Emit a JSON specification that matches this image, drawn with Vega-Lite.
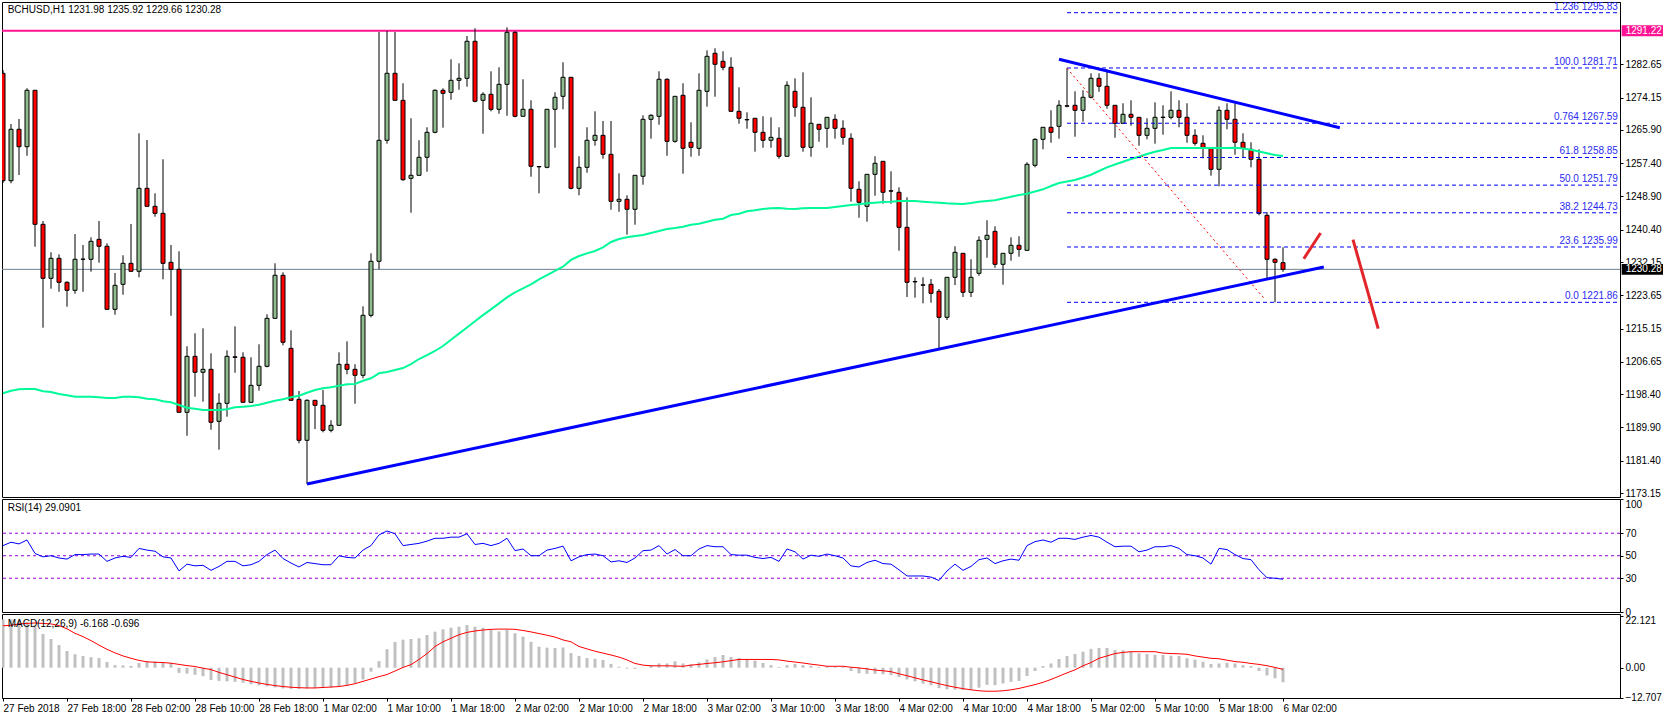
{"$schema":"https://vega.github.io/schema/vega-lite/v6.json","background":"#ffffff","padding":{"left":-2,"top":1,"right":0,"bottom":0},"spacing":2,"bounds":"flush","config":{"view":{"stroke":"#000","strokeWidth":1},"axis":{"grid":false,"title":null,"domainColor":"#000","tickColor":"#000","labelColor":"#000","labelFont":"Liberation Sans","labelFontSize":10,"tickSize":3,"labelPadding":2,"labelOverlap":false,"labelBound":false,"labelFlush":false},"text":{"font":"Liberation Sans","fontSize":10}},"datasets":{"bars":[
{"t":"2018-02-27T10:00","o":1280.35,"h":1281.19,"l":1252.33,"c":1252.92,"ma":1198.62,"rsi":59,"macd":20.5,"sig":17.8},
{"t":"2018-02-27T11:00","o":1252.92,"h":1267.4,"l":1252.25,"c":1266.05,"ma":1199.28,"rsi":62,"macd":20.5,"sig":18},
{"t":"2018-02-27T12:00","o":1266.05,"h":1268.68,"l":1254.37,"c":1261.6,"ma":1199.64,"rsi":60.5,"macd":20,"sig":18.6},
{"t":"2018-02-27T13:00","o":1261.6,"h":1276.52,"l":1259.3,"c":1276.01,"ma":1199.72,"rsi":64,"macd":19.5,"sig":18.8},
{"t":"2018-02-27T14:00","o":1276.01,"h":1276.1,"l":1236.06,"c":1241.78,"ma":1199.72,"rsi":52,"macd":18,"sig":19},
{"t":"2018-02-27T15:00","o":1241.78,"h":1242.63,"l":1215.38,"c":1227.99,"ma":1199.13,"rsi":49,"macd":14.3,"sig":18.8},
{"t":"2018-02-27T16:00","o":1227.99,"h":1234.63,"l":1225.34,"c":1233.1,"ma":1198.95,"rsi":50,"macd":12.2,"sig":18.6},
{"t":"2018-02-27T17:00","o":1233.1,"h":1234.12,"l":1224.57,"c":1226.97,"ma":1198.44,"rsi":48,"macd":9.6,"sig":17.9},
{"t":"2018-02-27T18:00","o":1226.97,"h":1227.23,"l":1220.74,"c":1224.93,"ma":1198.11,"rsi":47,"macd":7.1,"sig":16.5},
{"t":"2018-02-27T19:00","o":1224.93,"h":1239.31,"l":1224.06,"c":1232.85,"ma":1197.75,"rsi":51,"macd":5.7,"sig":14.6},
{"t":"2018-02-27T20:00","o":1232.85,"h":1236.5,"l":1224.57,"c":1232.9,"ma":1197.75,"rsi":51,"macd":5,"sig":13.2},
{"t":"2018-02-27T21:00","o":1232.85,"h":1238.46,"l":1229.68,"c":1237.44,"ma":1197.75,"rsi":51.5,"macd":4.5,"sig":11.5},
{"t":"2018-02-27T22:00","o":1237.95,"h":1242.63,"l":1231.98,"c":1236.17,"ma":1197.6,"rsi":51.5,"macd":4.1,"sig":9.6},
{"t":"2018-02-27T23:00","o":1236.17,"h":1236.93,"l":1220.07,"c":1220.07,"ma":1197.42,"rsi":45,"macd":2.4,"sig":7.8},
{"t":"2018-02-28T00:00","o":1220.07,"h":1229.35,"l":1218.69,"c":1226.2,"ma":1197.42,"rsi":48,"macd":1.1,"sig":6.3},
{"t":"2018-02-28T01:00","o":1226.46,"h":1233.87,"l":1223.8,"c":1231.82,"ma":1197.75,"rsi":49.5,"macd":1,"sig":5},
{"t":"2018-02-28T02:00","o":1231.82,"h":1241.86,"l":1229.78,"c":1229.78,"ma":1197.75,"rsi":48.5,"macd":0.8,"sig":4},
{"t":"2018-02-28T03:00","o":1229.78,"h":1265.03,"l":1228.25,"c":1250.98,"ma":1197.6,"rsi":56.5,"macd":2,"sig":3.1},
{"t":"2018-02-28T04:00","o":1250.98,"h":1263.31,"l":1246.38,"c":1246.38,"ma":1197.24,"rsi":55,"macd":2.7,"sig":2.5},
{"t":"2018-02-28T05:00","o":1246.38,"h":1249.7,"l":1243.73,"c":1244.59,"ma":1197.09,"rsi":54,"macd":2.7,"sig":2.3},
{"t":"2018-02-28T06:00","o":1244.59,"h":1258.39,"l":1227.74,"c":1231.82,"ma":1196.58,"rsi":49,"macd":2.3,"sig":2.2},
{"t":"2018-02-28T07:00","o":1232.08,"h":1236.5,"l":1218.44,"c":1230.29,"ma":1196.32,"rsi":48,"macd":2,"sig":1.9},
{"t":"2018-02-28T08:00","o":1230.29,"h":1234.89,"l":1193.77,"c":1193.77,"ma":1195.63,"rsi":36.5,"macd":-2.2,"sig":1.4},
{"t":"2018-02-28T09:00","o":1193.77,"h":1210.63,"l":1187.79,"c":1208.07,"ma":1194.94,"rsi":42.5,"macd":-2.5,"sig":0.9},
{"t":"2018-02-28T10:00","o":1208.07,"h":1213.95,"l":1197.75,"c":1203.99,"ma":1194.69,"rsi":41,"macd":-3,"sig":0.5},
{"t":"2018-02-28T11:00","o":1203.99,"h":1215.22,"l":1196.48,"c":1204.75,"ma":1194.36,"rsi":41.5,"macd":-3.6,"sig":-0.2},
{"t":"2018-02-28T12:00","o":1204.75,"h":1208.84,"l":1189.32,"c":1191.22,"ma":1194.36,"rsi":37,"macd":-5.2,"sig":-0.8},
{"t":"2018-02-28T13:00","o":1191.47,"h":1198.62,"l":1184.22,"c":1196.07,"ma":1194.36,"rsi":40.5,"macd":-5.6,"sig":-2},
{"t":"2018-02-28T14:00","o":1196.07,"h":1209.6,"l":1192.65,"c":1208.07,"ma":1194.53,"rsi":45,"macd":-5.8,"sig":-3},
{"t":"2018-02-28T15:00","o":1207.95,"h":1215.73,"l":1203.88,"c":1207.8,"ma":1195.05,"rsi":45,"macd":-6,"sig":-4},
{"t":"2018-02-28T16:00","o":1207.82,"h":1209.09,"l":1196.32,"c":1196.32,"ma":1195.2,"rsi":41,"macd":-6.4,"sig":-5},
{"t":"2018-02-28T17:00","o":1196.32,"h":1207.82,"l":1196.32,"c":1200.66,"ma":1195.38,"rsi":42,"macd":-7,"sig":-5.8},
{"t":"2018-02-28T18:00","o":1200.66,"h":1211.14,"l":1199.28,"c":1205.52,"ma":1195.71,"rsi":45,"macd":-7.5,"sig":-6.5},
{"t":"2018-02-28T19:00","o":1205.52,"h":1218.8,"l":1205.26,"c":1217.77,"ma":1196.22,"rsi":51,"macd":-7.9,"sig":-7.1},
{"t":"2018-02-28T20:00","o":1217.77,"h":1231.82,"l":1217.77,"c":1228.76,"ma":1196.73,"rsi":55,"macd":-8.4,"sig":-7.6},
{"t":"2018-02-28T21:00","o":1228.76,"h":1229.52,"l":1210.88,"c":1211.65,"ma":1197.09,"rsi":47.5,"macd":-8.8,"sig":-8},
{"t":"2018-02-28T22:00","o":1210.11,"h":1214.71,"l":1196.83,"c":1196.83,"ma":1197.6,"rsi":43.5,"macd":-9,"sig":-8.3},
{"t":"2018-02-28T23:00","o":1197.09,"h":1199.21,"l":1185.85,"c":1186.62,"ma":1198,"rsi":40,"macd":-9,"sig":-8.5},
{"t":"2018-03-01T00:00","o":1186.62,"h":1197.09,"l":1175.46,"c":1196.83,"ma":1198.77,"rsi":44,"macd":-8.8,"sig":-8.6},
{"t":"2018-03-01T01:00","o":1196.83,"h":1196.83,"l":1189.51,"c":1195.56,"ma":1199.46,"rsi":43,"macd":-8.7,"sig":-8.6},
{"t":"2018-03-01T02:00","o":1195.56,"h":1199.46,"l":1188.66,"c":1189.17,"ma":1199.9,"rsi":42,"macd":-8.6,"sig":-8.4},
{"t":"2018-03-01T03:00","o":1189.17,"h":1191.73,"l":1188.66,"c":1190.45,"ma":1200.15,"rsi":42,"macd":-8.5,"sig":-8.2},
{"t":"2018-03-01T04:00","o":1190.45,"h":1209.09,"l":1190.45,"c":1206.03,"ma":1200.56,"rsi":50,"macd":-8.2,"sig":-8},
{"t":"2018-03-01T05:00","o":1206.03,"h":1211.9,"l":1203.47,"c":1204.75,"ma":1200.92,"rsi":48.5,"macd":-7.6,"sig":-7.5},
{"t":"2018-03-01T06:00","o":1204.75,"h":1206.03,"l":1195.97,"c":1203.22,"ma":1201,"rsi":48,"macd":-6.6,"sig":-6.8},
{"t":"2018-03-01T07:00","o":1203.22,"h":1220.84,"l":1202.45,"c":1218.54,"ma":1201.84,"rsi":55,"macd":-5,"sig":-5.8},
{"t":"2018-03-01T08:00","o":1218.54,"h":1234.38,"l":1218.03,"c":1232.34,"ma":1202.45,"rsi":59,"macd":-1.7,"sig":-4.8},
{"t":"2018-03-01T09:00","o":1232.34,"h":1290.9,"l":1230.29,"c":1263.24,"ma":1203.73,"rsi":68.5,"macd":2.8,"sig":-3.8},
{"t":"2018-03-01T10:00","o":1263.24,"h":1291.15,"l":1262.37,"c":1280.35,"ma":1204.06,"rsi":72,"macd":7.9,"sig":-2.9},
{"t":"2018-03-01T11:00","o":1280.35,"h":1290.9,"l":1273.45,"c":1273.45,"ma":1204.57,"rsi":69.5,"macd":10.9,"sig":-1.4},
{"t":"2018-03-01T12:00","o":1273.45,"h":1277.8,"l":1252.92,"c":1253.17,"ma":1205.08,"rsi":59,"macd":11.9,"sig":0.1},
{"t":"2018-03-01T13:00","o":1253.53,"h":1268.86,"l":1244.75,"c":1254.3,"ma":1206.1,"rsi":60,"macd":12.2,"sig":1.3},
{"t":"2018-03-01T14:00","o":1254.3,"h":1263.24,"l":1254.3,"c":1258.9,"ma":1207.38,"rsi":61,"macd":12.5,"sig":3.5},
{"t":"2018-03-01T15:00","o":1258.9,"h":1266.56,"l":1255.22,"c":1265.28,"ma":1208.4,"rsi":63,"macd":13.9,"sig":6},
{"t":"2018-03-01T16:00","o":1265.28,"h":1276.26,"l":1265.03,"c":1276.01,"ma":1209.43,"rsi":65.5,"macd":15.3,"sig":9},
{"t":"2018-03-01T17:00","o":1276.01,"h":1276.52,"l":1266.46,"c":1275.24,"ma":1210.7,"rsi":65.5,"macd":16.3,"sig":11},
{"t":"2018-03-01T18:00","o":1275.5,"h":1283.92,"l":1273.61,"c":1278.56,"ma":1212.28,"rsi":66.5,"macd":17,"sig":12.5},
{"t":"2018-03-01T19:00","o":1278.56,"h":1282.9,"l":1276.16,"c":1279.07,"ma":1213.86,"rsi":66.5,"macd":17.4,"sig":14},
{"t":"2018-03-01T20:00","o":1279.07,"h":1289.88,"l":1276.93,"c":1288.52,"ma":1215.43,"rsi":69.5,"macd":18.1,"sig":15},
{"t":"2018-03-01T21:00","o":1288.52,"h":1291.84,"l":1272.94,"c":1273.2,"ma":1217.01,"rsi":60,"macd":17.4,"sig":15.6},
{"t":"2018-03-01T22:00","o":1273.45,"h":1275.5,"l":1264.92,"c":1274.99,"ma":1218.59,"rsi":61,"macd":17,"sig":16},
{"t":"2018-03-01T23:00","o":1274.99,"h":1280.86,"l":1270.64,"c":1271.16,"ma":1220.07,"rsi":59,"macd":16,"sig":16.3},
{"t":"2018-03-02T00:00","o":1271.16,"h":1281.88,"l":1270.03,"c":1277.54,"ma":1221.6,"rsi":61,"macd":15.4,"sig":16.4},
{"t":"2018-03-02T01:00","o":1277.54,"h":1292.1,"l":1269.52,"c":1290.82,"ma":1223.13,"rsi":65.5,"macd":16.1,"sig":16.4},
{"t":"2018-03-02T02:00","o":1290.82,"h":1291.08,"l":1269.11,"c":1269.37,"ma":1224.41,"rsi":54.5,"macd":14.6,"sig":16.3},
{"t":"2018-03-02T03:00","o":1269.37,"h":1278.82,"l":1269.37,"c":1271.16,"ma":1225.43,"rsi":56,"macd":13.2,"sig":15.8},
{"t":"2018-03-02T04:00","o":1271.16,"h":1273.45,"l":1253.94,"c":1256.6,"ma":1226.45,"rsi":50,"macd":11,"sig":15.2},
{"t":"2018-03-02T05:00","o":1256.55,"h":1256.6,"l":1249.7,"c":1256.45,"ma":1227.73,"rsi":50,"macd":8.9,"sig":14.5},
{"t":"2018-03-02T06:00","o":1256.34,"h":1271.16,"l":1256.09,"c":1271.16,"ma":1228.8,"rsi":55,"macd":8.5,"sig":13.8},
{"t":"2018-03-02T07:00","o":1271.16,"h":1275.5,"l":1261.35,"c":1274.22,"ma":1229.88,"rsi":56.5,"macd":8.4,"sig":13},
{"t":"2018-03-02T08:00","o":1274.47,"h":1283.16,"l":1271.16,"c":1279.33,"ma":1230.96,"rsi":58.5,"macd":8.6,"sig":11.8},
{"t":"2018-03-02T09:00","o":1279.33,"h":1279.33,"l":1250.72,"c":1250.98,"ma":1232.7,"rsi":45.5,"macd":6.2,"sig":11},
{"t":"2018-03-02T10:00","o":1250.98,"h":1259.15,"l":1249.19,"c":1256.34,"ma":1233.68,"rsi":49,"macd":5,"sig":9},
{"t":"2018-03-02T11:00","o":1256.34,"h":1266.56,"l":1254.96,"c":1263.24,"ma":1234.37,"rsi":51,"macd":4.1,"sig":8},
{"t":"2018-03-02T12:00","o":1263.24,"h":1270.64,"l":1261.86,"c":1264.51,"ma":1234.97,"rsi":51.5,"macd":3.8,"sig":7},
{"t":"2018-03-02T13:00","o":1264.51,"h":1268.17,"l":1258.54,"c":1259.66,"ma":1235.91,"rsi":50,"macd":3.3,"sig":6.2},
{"t":"2018-03-02T14:00","o":1259.66,"h":1268.17,"l":1245.51,"c":1247.66,"ma":1237.26,"rsi":44.5,"macd":1.6,"sig":5.4},
{"t":"2018-03-02T15:00","o":1247.66,"h":1254.81,"l":1245,"c":1248.17,"ma":1238.03,"rsi":45.5,"macd":0.4,"sig":4.5},
{"t":"2018-03-02T16:00","o":1248.17,"h":1249.19,"l":1239.13,"c":1245.62,"ma":1238.46,"rsi":44,"macd":-0.4,"sig":3.3},
{"t":"2018-03-02T17:00","o":1245.62,"h":1254.3,"l":1241.68,"c":1254.3,"ma":1238.8,"rsi":48,"macd":-0.5,"sig":1.8},
{"t":"2018-03-02T18:00","o":1254.05,"h":1269.62,"l":1251.9,"c":1268.6,"ma":1239.05,"rsi":54.5,"macd":0.1,"sig":1.1},
{"t":"2018-03-02T19:00","o":1268.6,"h":1269.88,"l":1263.65,"c":1269.62,"ma":1239.56,"rsi":55,"macd":1.1,"sig":0.8},
{"t":"2018-03-02T20:00","o":1269.37,"h":1280.86,"l":1267.22,"c":1278.82,"ma":1240.07,"rsi":59,"macd":1.8,"sig":0.8},
{"t":"2018-03-02T21:00","o":1278.82,"h":1279.07,"l":1259.3,"c":1262.98,"ma":1240.58,"rsi":51.5,"macd":1.8,"sig":0.8},
{"t":"2018-03-02T22:00","o":1262.98,"h":1274.47,"l":1262.62,"c":1274.47,"ma":1240.84,"rsi":55.5,"macd":2.7,"sig":0.7},
{"t":"2018-03-02T23:00","o":1274.73,"h":1277.8,"l":1254.71,"c":1261.2,"ma":1241.17,"rsi":50,"macd":1.8,"sig":0.6},
{"t":"2018-03-03T00:00","o":1262.73,"h":1267.84,"l":1259.05,"c":1261.45,"ma":1241.68,"rsi":50,"macd":1.4,"sig":1.1},
{"t":"2018-03-03T01:00","o":1261.2,"h":1280.35,"l":1259.3,"c":1276.01,"ma":1241.94,"rsi":56,"macd":2.3,"sig":1.4},
{"t":"2018-03-03T02:00","o":1275.75,"h":1286.22,"l":1271.82,"c":1284.69,"ma":1242.45,"rsi":59,"macd":3.5,"sig":1.8},
{"t":"2018-03-03T03:00","o":1285.46,"h":1286.73,"l":1274.37,"c":1282.65,"ma":1242.96,"rsi":58,"macd":4.5,"sig":2.1},
{"t":"2018-03-03T04:00","o":1283.41,"h":1285.97,"l":1281.12,"c":1281.88,"ma":1243.21,"rsi":58,"macd":5.4,"sig":2.5},
{"t":"2018-03-03T05:00","o":1281.88,"h":1284.44,"l":1270.64,"c":1270.64,"ma":1244.16,"rsi":51,"macd":4.5,"sig":3},
{"t":"2018-03-03T06:00","o":1270.64,"h":1276.77,"l":1267.48,"c":1268.86,"ma":1244.49,"rsi":50.5,"macd":4.1,"sig":3.5},
{"t":"2018-03-03T07:00","o":1268.55,"h":1270.39,"l":1266.2,"c":1268.45,"ma":1245.1,"rsi":50.5,"macd":3.5,"sig":3.5},
{"t":"2018-03-03T08:00","o":1268.86,"h":1268.86,"l":1260.33,"c":1265.28,"ma":1245.36,"rsi":48.5,"macd":3,"sig":3.5},
{"t":"2018-03-03T09:00","o":1265.28,"h":1269.37,"l":1261.35,"c":1263.24,"ma":1245.69,"rsi":47.5,"macd":2,"sig":3.5},
{"t":"2018-03-03T10:00","o":1263.24,"h":1269.11,"l":1261.35,"c":1264,"ma":1245.87,"rsi":48.5,"macd":1.1,"sig":3.5},
{"t":"2018-03-03T11:00","o":1263.75,"h":1266.56,"l":1258.54,"c":1259.15,"ma":1245.95,"rsi":45,"macd":0.3,"sig":3.3},
{"t":"2018-03-03T12:00","o":1259.15,"h":1278.31,"l":1259.15,"c":1277.29,"ma":1245.77,"rsi":56,"macd":1.1,"sig":2.8},
{"t":"2018-03-03T13:00","o":1275.75,"h":1279.07,"l":1269.26,"c":1271.67,"ma":1245.69,"rsi":53.5,"macd":1.6,"sig":2.4},
{"t":"2018-03-03T14:00","o":1271.67,"h":1280.6,"l":1260.33,"c":1261.45,"ma":1245.87,"rsi":47,"macd":1.1,"sig":2},
{"t":"2018-03-03T15:00","o":1261.45,"h":1274.22,"l":1259.05,"c":1267.58,"ma":1245.95,"rsi":50.5,"macd":0.8,"sig":1.5},
{"t":"2018-03-03T16:00","o":1267.32,"h":1267.32,"l":1262.88,"c":1266.05,"ma":1245.95,"rsi":49.5,"macd":0.3,"sig":1.1},
{"t":"2018-03-03T17:00","o":1266.3,"h":1269.11,"l":1261.35,"c":1269.11,"ma":1245.95,"rsi":51.5,"macd":0.4,"sig":0.6},
{"t":"2018-03-03T18:00","o":1268.6,"h":1269.88,"l":1263.65,"c":1266.3,"ma":1246.2,"rsi":50,"macd":0.4,"sig":0.6},
{"t":"2018-03-03T19:00","o":1266.3,"h":1268.35,"l":1262.11,"c":1264,"ma":1246.46,"rsi":48,"macd":0.4,"sig":0.6},
{"t":"2018-03-03T20:00","o":1263.75,"h":1265.03,"l":1247.56,"c":1250.98,"ma":1246.71,"rsi":41,"macd":-1.4,"sig":0.2},
{"t":"2018-03-03T21:00","o":1250.72,"h":1252.77,"l":1243.47,"c":1247.4,"ma":1246.89,"rsi":40,"macd":-2.4,"sig":-0.1},
{"t":"2018-03-03T22:00","o":1246.38,"h":1254.55,"l":1242.45,"c":1254.55,"ma":1247.15,"rsi":44,"macd":-2.6,"sig":-0.5},
{"t":"2018-03-03T23:00","o":1254.55,"h":1259.15,"l":1249.09,"c":1257.36,"ma":1247.3,"rsi":46,"macd":-2.6,"sig":-1},
{"t":"2018-03-04T00:00","o":1257.87,"h":1257.87,"l":1247.05,"c":1249.96,"ma":1247.48,"rsi":43,"macd":-2.8,"sig":-1.3},
{"t":"2018-03-04T01:00","o":1250.35,"h":1255.32,"l":1247.05,"c":1250.25,"ma":1247.56,"rsi":42.5,"macd":-3.2,"sig":-1.7},
{"t":"2018-03-04T02:00","o":1249.96,"h":1251.23,"l":1235.04,"c":1241.02,"ma":1247.74,"rsi":37.5,"macd":-4,"sig":-2.6},
{"t":"2018-03-04T03:00","o":1241.02,"h":1248.68,"l":1223.22,"c":1226.97,"ma":1247.74,"rsi":32,"macd":-5,"sig":-3.4},
{"t":"2018-03-04T04:00","o":1227.17,"h":1228.25,"l":1223.04,"c":1227.07,"ma":1247.74,"rsi":32,"macd":-5.8,"sig":-4.3},
{"t":"2018-03-04T05:00","o":1226.33,"h":1228.25,"l":1221.61,"c":1226.23,"ma":1247.56,"rsi":32,"macd":-6.8,"sig":-5.2},
{"t":"2018-03-04T06:00","o":1226.46,"h":1227.81,"l":1221.76,"c":1224.16,"ma":1247.4,"rsi":31,"macd":-7.5,"sig":-6},
{"t":"2018-03-04T07:00","o":1224.67,"h":1225.26,"l":1210.11,"c":1218.03,"ma":1247.3,"rsi":28,"macd":-8.7,"sig":-6.8},
{"t":"2018-03-04T08:00","o":1218.03,"h":1228.25,"l":1217.34,"c":1228.25,"ma":1247.15,"rsi":36.5,"macd":-9.2,"sig":-7.6},
{"t":"2018-03-04T09:00","o":1228.25,"h":1236.17,"l":1226.28,"c":1234.63,"ma":1247.05,"rsi":42.5,"macd":-9.3,"sig":-8.3},
{"t":"2018-03-04T10:00","o":1234.38,"h":1234.38,"l":1223.22,"c":1224.42,"ma":1246.97,"rsi":37,"macd":-9.5,"sig":-8.9},
{"t":"2018-03-04T11:00","o":1224.42,"h":1232.85,"l":1223.22,"c":1228.25,"ma":1247.22,"rsi":40.5,"macd":-9.3,"sig":-9.4},
{"t":"2018-03-04T12:00","o":1229.27,"h":1238.72,"l":1228.66,"c":1237.7,"ma":1247.56,"rsi":46.5,"macd":-8.5,"sig":-9.8},
{"t":"2018-03-04T13:00","o":1237.95,"h":1242.81,"l":1233.25,"c":1238.97,"ma":1247.74,"rsi":48,"macd":-7.3,"sig":-10},
{"t":"2018-03-04T14:00","o":1239.99,"h":1241.27,"l":1230.7,"c":1231.57,"ma":1247.91,"rsi":43,"macd":-7.4,"sig":-10},
{"t":"2018-03-04T15:00","o":1231.57,"h":1234.38,"l":1226.36,"c":1234.38,"ma":1248.37,"rsi":45.5,"macd":-6.7,"sig":-9.8},
{"t":"2018-03-04T16:00","o":1234.38,"h":1238.46,"l":1232.49,"c":1236.42,"ma":1248.83,"rsi":47,"macd":-6,"sig":-9.4},
{"t":"2018-03-04T17:00","o":1236.42,"h":1238.72,"l":1233.51,"c":1235.4,"ma":1249.27,"rsi":46,"macd":-5.6,"sig":-8.8},
{"t":"2018-03-04T18:00","o":1235.14,"h":1257.62,"l":1235.14,"c":1257.11,"ma":1249.6,"rsi":59,"macd":-3.5,"sig":-8},
{"t":"2018-03-04T19:00","o":1256.85,"h":1263.75,"l":1256.34,"c":1263.49,"ma":1250.16,"rsi":62.5,"macd":-1.4,"sig":-7.2},
{"t":"2018-03-04T20:00","o":1263.49,"h":1266.56,"l":1260.94,"c":1266.56,"ma":1250.72,"rsi":64,"macd":0.7,"sig":-6.2},
{"t":"2018-03-04T21:00","o":1266.56,"h":1270.9,"l":1262.62,"c":1265.28,"ma":1251.57,"rsi":62,"macd":1.8,"sig":-5},
{"t":"2018-03-04T22:00","o":1266.81,"h":1273.45,"l":1263.65,"c":1272.18,"ma":1252.33,"rsi":65.5,"macd":3.7,"sig":-3.6},
{"t":"2018-03-04T23:00","o":1272.05,"h":1281.63,"l":1271.67,"c":1271.95,"ma":1252.71,"rsi":65.5,"macd":5,"sig":-2.2},
{"t":"2018-03-05T00:00","o":1272.18,"h":1275.75,"l":1264.16,"c":1270.9,"ma":1253.1,"rsi":64.5,"macd":5.8,"sig":-0.9},
{"t":"2018-03-05T01:00","o":1270.9,"h":1276.01,"l":1267.99,"c":1274.22,"ma":1253.74,"rsi":66.5,"macd":6.8,"sig":0.8},
{"t":"2018-03-05T02:00","o":1274.22,"h":1280.35,"l":1273.96,"c":1279.07,"ma":1254.45,"rsi":68,"macd":8,"sig":2.2},
{"t":"2018-03-05T03:00","o":1279.07,"h":1280.35,"l":1275.65,"c":1277.03,"ma":1255.4,"rsi":66.5,"macd":8.4,"sig":4},
{"t":"2018-03-05T04:00","o":1277.03,"h":1281.37,"l":1271.31,"c":1272.18,"ma":1256.34,"rsi":62,"macd":8.4,"sig":5},
{"t":"2018-03-05T05:00","o":1272.18,"h":1272.18,"l":1263.9,"c":1267.58,"ma":1257.06,"rsi":58,"macd":7.5,"sig":6},
{"t":"2018-03-05T06:00","o":1267.58,"h":1272.69,"l":1267.58,"c":1269.88,"ma":1257.77,"rsi":58.5,"macd":7.4,"sig":6.5},
{"t":"2018-03-05T07:00","o":1269.88,"h":1273.45,"l":1266.97,"c":1269.11,"ma":1258.46,"rsi":58.5,"macd":6.8,"sig":6.8},
{"t":"2018-03-05T08:00","o":1269.11,"h":1269.11,"l":1261.86,"c":1264.51,"ma":1259.05,"rsi":53.5,"macd":6.1,"sig":6.8},
{"t":"2018-03-05T09:00","o":1264.51,"h":1268.86,"l":1263.49,"c":1266.3,"ma":1259.74,"rsi":55,"macd":5.8,"sig":6.8},
{"t":"2018-03-05T10:00","o":1266.3,"h":1272.94,"l":1262.37,"c":1269.11,"ma":1260.33,"rsi":58,"macd":5.5,"sig":6.8},
{"t":"2018-03-05T11:00","o":1269.16,"h":1272.18,"l":1264.67,"c":1269.06,"ma":1260.76,"rsi":58,"macd":5.4,"sig":6.2},
{"t":"2018-03-05T12:00","o":1269.11,"h":1275.75,"l":1268.6,"c":1270.9,"ma":1261.27,"rsi":59,"macd":5.1,"sig":6},
{"t":"2018-03-05T13:00","o":1270.9,"h":1273.45,"l":1266.56,"c":1269.11,"ma":1261.27,"rsi":56.5,"macd":5,"sig":5.9},
{"t":"2018-03-05T14:00","o":1269.11,"h":1272.69,"l":1262.62,"c":1264.51,"ma":1261.27,"rsi":51,"macd":4,"sig":5.7},
{"t":"2018-03-05T15:00","o":1264.51,"h":1266.05,"l":1261.86,"c":1262.47,"ma":1261.27,"rsi":50,"macd":3.4,"sig":5},
{"t":"2018-03-05T16:00","o":1262.47,"h":1264.51,"l":1258.64,"c":1261.2,"ma":1261.27,"rsi":48,"macd":2.5,"sig":4.5},
{"t":"2018-03-05T17:00","o":1261.2,"h":1261.2,"l":1254.2,"c":1255.83,"ma":1261.27,"rsi":42.5,"macd":1.6,"sig":4},
{"t":"2018-03-05T18:00","o":1255.83,"h":1271.92,"l":1251.49,"c":1270.9,"ma":1261.27,"rsi":56.5,"macd":1.8,"sig":3.8},
{"t":"2018-03-05T19:00","o":1270.9,"h":1272.69,"l":1266.05,"c":1268.6,"ma":1261.27,"rsi":55.5,"macd":2.1,"sig":3.2},
{"t":"2018-03-05T20:00","o":1268.6,"h":1272.69,"l":1259.56,"c":1262.73,"ma":1261.35,"rsi":51,"macd":1.8,"sig":2.6},
{"t":"2018-03-05T21:00","o":1262.73,"h":1265.03,"l":1258.9,"c":1261.2,"ma":1261.14,"rsi":47.5,"macd":1.1,"sig":2.3},
{"t":"2018-03-05T22:00","o":1260.94,"h":1262.73,"l":1256.34,"c":1258.39,"ma":1260.84,"rsi":46.5,"macd":0.7,"sig":1.8},
{"t":"2018-03-05T23:00","o":1258.39,"h":1260.94,"l":1244.08,"c":1244.59,"ma":1260.38,"rsi":37.5,"macd":-1.4,"sig":1.4},
{"t":"2018-03-06T00:00","o":1244.08,"h":1244.85,"l":1227.99,"c":1232.85,"ma":1259.92,"rsi":30.5,"macd":-3.3,"sig":0.85},
{"t":"2018-03-06T01:00","o":1232.85,"h":1233.1,"l":1221.86,"c":1232.08,"ma":1259.48,"rsi":30,"macd":-4.5,"sig":0.1},
{"t":"2018-03-06T02:00","o":1231.98,"h":1235.92,"l":1229.66,"c":1230.28,"ma":1259.23,"rsi":29.09,"macd":-6.168,"sig":-0.696}
],
"fib":[{"pct":"1.236","p":1295.83,"a":"2018-03-04T23:00","b":"2018-03-07T20:07"},{"pct":"100.0","p":1281.71,"a":"2018-03-04T23:00","b":"2018-03-07T20:07"},{"pct":"0.764","p":1267.59,"a":"2018-03-04T23:00","b":"2018-03-07T20:07"},{"pct":"61.8","p":1258.85,"a":"2018-03-04T23:00","b":"2018-03-07T20:07"},{"pct":"50.0","p":1251.79,"a":"2018-03-04T23:00","b":"2018-03-07T20:07"},{"pct":"38.2","p":1244.73,"a":"2018-03-04T23:00","b":"2018-03-07T20:07"},{"pct":"23.6","p":1235.99,"a":"2018-03-04T23:00","b":"2018-03-07T20:07"},{"pct":"0.0","p":1221.86,"a":"2018-03-04T23:00","b":"2018-03-07T20:07"}],
"trend":[{"a":"2018-03-01T00:00","b":"2018-03-06T07:06","p":1175.46,"q":1230.88},{"a":"2018-03-04T22:00","b":"2018-03-06T09:06","p":1283.92,"q":1266.46}],
"ray":[{"a":"2018-03-04T23:00","b":"2018-03-05T23:42","p":1281.63,"q":1222.7}],
"arrows":[{"a":"2018-03-06T04:36","b":"2018-03-06T06:42","p":1233,"q":1239.56},{"a":"2018-03-06T10:45","b":"2018-03-06T13:54","p":1237.85,"q":1215.12}],
"hline":[{"name":"pink","p":1291.22},{"name":"last","p":1230.28}],
"tags":[{"a":"2018-03-07T20:20","b":"2018-03-08T01:30","p":1292.6,"q":1289.8,"v":1291.22,"s":"1291.22","k":"pink"},{"a":"2018-03-07T20:20","b":"2018-03-08T01:30","p":1231.65,"q":1228.9,"v":1230.28,"s":"1230.28","k":"last"}],
"hdr":[{"t":"2018-02-27T10:35","p":1296.5,"s":"BCHUSD,H1  1231.98 1235.92 1229.66 1230.28"}],
"hdr2":[{"t":"2018-02-27T10:35","p":92.8,"s":"RSI(14) 29.0901"}],
"hdr3":[{"t":"2018-02-27T10:35","p":18.7,"s":"MACD(12,26,9) -6.168 -0.696"}],
"levels":[{"p":70},{"p":50},{"p":30}]
},
"vconcat":[
{"width":1618,"height":495,"layer":[
{"data":{"name":"hline"},"transform":[{"filter":"datum.name=='last'"}],"mark":{"type":"rule","color":"#708090","strokeWidth":1},"encoding":{"y":{"field":"p","type":"quantitative","scale":{"domain":[1172.14,1298.56],"nice":false,"zero":false},"axis":{"title":null,"orient":"right","tickCount":40,"values":[1282.65,1274.15,1265.9,1257.4,1248.9,1240.4,1232.15,1223.65,1215.15,1206.65,1198.4,1189.9,1181.4,1173.15],"format":".2f"}}}},
{"data":{"name":"hline"},"transform":[{"filter":"datum.name=='pink'"}],"mark":{"type":"rule","color":"#FF1493","strokeWidth":2},"encoding":{"y":{"field":"p","type":"quantitative"}}},
{"data":{"name":"bars"},"mark":{"type":"rule","color":"#000","strokeWidth":1,"clip":true},"encoding":{"x":{"field":"t","type":"temporal","scale":{"domain":["2018-02-27T09:52:30","2018-03-07T20:07:30"],"padding":0},"axis":null},"y":{"field":"l","type":"quantitative"},"y2":{"field":"h"}}},
{"data":{"name":"bars"},"mark":{"type":"bar","size":4,"stroke":"#000","strokeWidth":1,"clip":true},"encoding":{"x":{"field":"t","type":"temporal","axis":null},"y":{"field":"o","type":"quantitative"},"y2":{"field":"c"},"fill":{"condition":{"test":"datum.c>=datum.o","value":"#8FBC8F"},"value":"#FF0000"}}},
{"data":{"name":"bars"},"mark":{"type":"line","color":"#00FA9A","strokeWidth":2},"encoding":{"x":{"field":"t","type":"temporal","axis":null},"y":{"field":"ma","type":"quantitative"}}},
{"data":{"name":"fib"},"mark":{"type":"rule","color":"#0000FF","strokeWidth":1,"strokeDash":[4,3]},"encoding":{"x":{"field":"a","type":"temporal","axis":null},"x2":{"field":"b"},"y":{"field":"p","type":"quantitative"}}},
{"data":{"name":"fib"},"mark":{"type":"text","color":"#2A2AF0","align":"right","baseline":"bottom","dx":-2,"dy":-1,"fontSize":10},"encoding":{"x":{"field":"b","type":"temporal","axis":null},"y":{"field":"p","type":"quantitative"},"text":{"field":"p","type":"quantitative","format":".2f"}}},
{"data":{"name":"fib"},"mark":{"type":"text","color":"#2A2AF0","align":"right","baseline":"bottom","dx":-41,"dy":-1,"fontSize":10},"encoding":{"x":{"field":"b","type":"temporal","axis":null},"y":{"field":"p","type":"quantitative"},"text":{"field":"pct","type":"nominal"}}},
{"data":{"name":"ray"},"mark":{"type":"rule","color":"#FF0000","strokeWidth":1,"strokeDash":[2,3]},"encoding":{"x":{"field":"a","type":"temporal","axis":null},"x2":{"field":"b"},"y":{"field":"p","type":"quantitative"},"y2":{"field":"q"}}},
{"data":{"name":"trend"},"mark":{"type":"rule","color":"#0000FF","strokeWidth":3},"encoding":{"x":{"field":"a","type":"temporal","axis":null},"x2":{"field":"b"},"y":{"field":"p","type":"quantitative"},"y2":{"field":"q"}}},
{"data":{"name":"arrows"},"mark":{"type":"rule","color":"#E2252B","strokeWidth":3},"encoding":{"x":{"field":"a","type":"temporal","axis":null},"x2":{"field":"b"},"y":{"field":"p","type":"quantitative"},"y2":{"field":"q"}}},
{"data":{"name":"tags"},"mark":{"type":"rect"},"encoding":{"x":{"field":"a","type":"temporal","axis":null},"x2":{"field":"b"},"y":{"field":"p","type":"quantitative"},"y2":{"field":"q"},"fill":{"condition":{"test":"datum.k=='pink'","value":"#FF1493"},"value":"#000000"}}},
{"data":{"name":"tags"},"mark":{"type":"text","color":"#fff","align":"left","baseline":"middle","dx":4,"fontSize":10},"encoding":{"x":{"field":"a","type":"temporal","axis":null},"y":{"field":"v","type":"quantitative"},"text":{"field":"s","type":"nominal"}}},
{"data":{"name":"hdr"},"mark":{"type":"text","color":"#000","align":"left","baseline":"middle","fontSize":10},"encoding":{"x":{"field":"t","type":"temporal","axis":null},"y":{"field":"p","type":"quantitative"},"text":{"field":"s","type":"nominal"}}}
]},
{"width":1618,"height":113,"layer":[
{"data":{"name":"levels"},"mark":{"type":"rule","color":"#9400D3","strokeWidth":1,"strokeDash":[3,3]},"encoding":{"y":{"field":"p","type":"quantitative","scale":{"domain":[0,100.4],"nice":false,"zero":false},"axis":{"title":null,"orient":"right","tickCount":20,"values":[100,70,50,30,0],"labelBaseline":{"condition":{"test":"datum.value==100","value":"top"},"value":"middle"}}}}},
{"data":{"name":"bars"},"mark":{"type":"line","color":"#0000FF","strokeWidth":1},"encoding":{"x":{"field":"t","type":"temporal","scale":{"domain":["2018-02-27T09:52:30","2018-03-07T20:07:30"],"padding":0},"axis":null},"y":{"field":"rsi","type":"quantitative"}}},
{"data":{"name":"hdr2"},"mark":{"type":"text","color":"#000","align":"left","baseline":"middle","fontSize":10},"encoding":{"x":{"field":"t","type":"temporal","axis":null},"y":{"field":"p","type":"quantitative"},"text":{"field":"s","type":"nominal"}}}
]},
{"width":1618,"height":84,"layer":[
{"data":{"name":"bars"},"transform":[{"calculate":"0","as":"zero"}],"mark":{"type":"bar","size":3,"color":"#C0C0C0","clip":true},"encoding":{"x":{"field":"t","type":"temporal","scale":{"domain":["2018-02-27T09:52:30","2018-03-07T20:07:30"],"padding":0},"axis":{"title":null,"tickCount":40,"values":["2018-02-27T10:00","2018-02-27T18:00","2018-02-28T02:00","2018-02-28T10:00","2018-02-28T18:00","2018-03-01T02:00","2018-03-01T10:00","2018-03-01T18:00","2018-03-02T02:00","2018-03-02T10:00","2018-03-02T18:00","2018-03-03T02:00","2018-03-03T10:00","2018-03-03T18:00","2018-03-04T02:00","2018-03-04T10:00","2018-03-04T18:00","2018-03-05T02:00","2018-03-05T10:00","2018-03-05T18:00","2018-03-06T02:00"],"labelAlign":"left","labelPadding":2,"labelExpr":"datum.index==0?'27 Feb 2018':timeFormat(datum.value,'%-d %b %H:%M')"}},"y":{"field":"macd","type":"quantitative","scale":{"domain":[-12.87,22.81],"nice":false,"zero":false},"axis":{"title":null,"orient":"right","tickCount":10,"values":[22.121,0,-12.707],"labelExpr":"datum.value==0?'0.00':format(datum.value,'.3f')","labelBaseline":{"condition":{"test":"datum.value>20","value":"top"},"value":"middle"}}},"y2":{"field":"zero"}}},
{"data":{"name":"bars"},"mark":{"type":"line","color":"#FF0000","strokeWidth":1},"encoding":{"x":{"field":"t","type":"temporal"},"y":{"field":"sig","type":"quantitative"}}},
{"data":{"name":"hdr3"},"mark":{"type":"text","color":"#000","align":"left","baseline":"middle","fontSize":10},"encoding":{"x":{"field":"t","type":"temporal"},"y":{"field":"p","type":"quantitative"},"text":{"field":"s","type":"nominal"}}}
]}
]}
